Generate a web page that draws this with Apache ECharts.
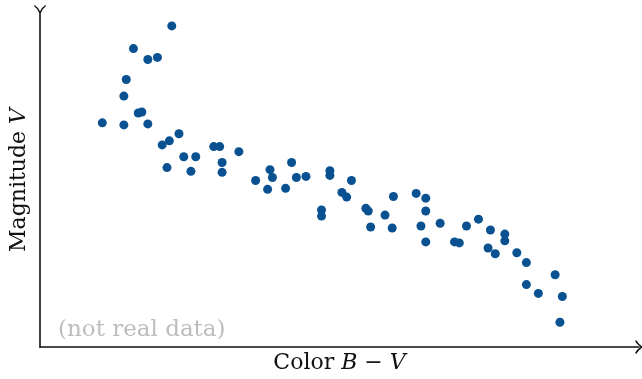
<!DOCTYPE html>
<html>
<head>
<meta charset="utf-8">
<script src="https://cdn.jsdelivr.net/npm/echarts@6/dist/echarts.min.js"></script>
<style>
  html, body { margin: 0; padding: 0; background: #fff; }
  #chart { width: 642px; height: 379px; }
</style>
</head>
<body>
<div id="chart"></div>
<script>
// colour index B-V (x) and magnitude V (y)
const colorBV = [
  0.55, 0.39, 0.45, 0.49, 0.36, 0.35, 0.41, 0.425, 0.26, 0.35,
  0.45, 0.58, 0.51, 0.54, 0.53, 0.60, 0.65, 0.63, 0.725, 0.75,
  0.76, 0.76, 0.83, 0.90, 0.96, 0.97, 0.95, 1.05, 1.025, 1.07,
  1.11, 1.21, 1.21, 1.175, 1.175, 1.26, 1.28, 1.30, 1.36, 1.37,
  1.38, 1.44, 1.47, 1.475, 1.57, 1.61, 1.61, 1.59, 1.61, 1.67,
  1.73, 1.75, 1.78, 1.83, 1.88, 1.94, 1.94, 1.87, 1.90, 1.99,
  2.03, 2.15, 2.03, 2.08, 2.18, 2.17
];
const magnitudeV = [
  9.47, 8.80, 8.48, 8.54, 7.89, 7.40, 6.90, 6.93, 6.61, 6.55,
  6.58, 6.29, 5.96, 6.08, 5.29, 5.61, 5.61, 5.18, 5.91, 5.91,
  5.44, 5.15, 5.76, 4.91, 5.23, 5.00, 4.65, 5.44, 4.68, 5.00,
  5.03, 5.20, 5.06, 4.04, 3.86, 4.56, 4.42, 4.91, 4.09, 4.01,
  3.54, 3.89, 3.51, 4.44, 4.53, 4.39, 4.01, 3.57, 3.10, 3.65,
  3.10, 3.07, 3.57, 3.77, 3.45, 3.33, 3.13, 2.92, 2.75, 2.78,
  2.49, 2.13, 1.84, 1.58, 1.49, 0.73
];

const points = colorBV.map((x, i) => [x, magnitudeV[i]]);

const chart = echarts.init(document.getElementById('chart'));

const axisColor = '#111';
const serif = '"DejaVu Serif", "Liberation Serif", serif';

// curved open arrow heads, drawn pointing "forward" (up) before the axis rotates them
const tipArrow = 'path://M0,7 Q4.2,4.6 7,0 Q9.8,4.6 14,7 L13.4,8.4 Q9.4,6.2 7,2.6 Q4.6,6.2 0.6,8.4 Z';
const forkArrow = 'path://M0,0 Q4,2.2 6,7 Q8,2.2 12,0 L12.4,1.4 Q8.8,3.6 6.9,8.6 L5.1,8.6 Q3.2,3.6 -0.4,1.4 Z';

chart.setOption({
  animation: false,
  grid: { left: 39, right: 3, top: 13, bottom: 29 },
  title: {
    text: '(not real data)',
    left: 53,
    top: 314,
    textStyle: { color: '#bdbdbd', fontFamily: serif, fontSize: 23, fontWeight: 'normal' }
  },
  xAxis: {
    type: 'value',
    min: 0,
    max: 2.5,
    name: 'Color {i|B} − {i|V}',
    nameLocation: 'middle',
    nameGap: 5,
    nameTextStyle: {
      color: '#111', fontFamily: serif, fontSize: 22,
      rich: { i: { fontStyle: 'italic', fontFamily: serif, fontSize: 22, color: '#111' } }
    },
    axisLine: {
      lineStyle: { color: axisColor, width: 1.6 },
      symbol: ['none', tipArrow],
      symbolSize: [14, 8],
      symbolOffset: [0, 0]
    },
    axisTick: { show: false },
    axisLabel: { show: false },
    splitLine: { show: false }
  },
  yAxis: {
    type: 'value',
    min: 0,
    max: 9.85,
    name: 'Magnitude {i|V}',
    nameLocation: 'middle',
    nameRotate: 90,
    nameGap: 10,
    nameTextStyle: {
      color: '#111', fontFamily: serif, fontSize: 22,
      rich: { i: { fontStyle: 'italic', fontFamily: serif, fontSize: 22, color: '#111' } }
    },
    axisLine: {
      lineStyle: { color: axisColor, width: 1.6 },
      symbol: ['none', forkArrow],
      symbolSize: [12, 8],
      symbolOffset: [0, 4]
    },
    axisTick: { show: false },
    axisLabel: { show: false },
    splitLine: { show: false }
  },
  series: [{
    type: 'scatter',
    data: points,
    symbolSize: 9,
    itemStyle: { color: '#0a5191', opacity: 1 }
  }]
});
</script>
</body>
</html>
